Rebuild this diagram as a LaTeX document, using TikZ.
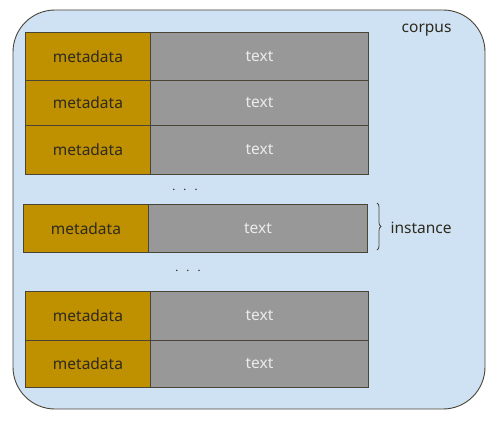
\documentclass[tikz,border=0pt]{standalone}
\usepackage{fontspec}
\setmainfont{Noto Sans}
\usetikzlibrary{decorations.pathreplacing}
\definecolor{bgblue}{HTML}{CFE2F3}
\definecolor{meta}{HTML}{BF9000}
\definecolor{txtgray}{HTML}{989898}
\definecolor{edge}{HTML}{4A4436}
\definecolor{ink}{HTML}{2E2A1E}
\begin{document}
\begin{tikzpicture}[x=1pt,y=-1pt,
  every node/.style={font=\fontsize{15.5}{17}\selectfont},
  metabox/.style={draw=edge,line width=0.9pt,fill=meta,text=ink,anchor=north west,inner sep=0pt,minimum height=#1,minimum width=125pt},
  textbox/.style={draw=edge,line width=0.9pt,fill=txtgray,text=white!92!black,anchor=north west,inner sep=0pt,minimum height=#1,minimum width=218pt},
  dotsnode/.style={text=ink,inner sep=0pt}]
\useasboundingbox (0,0) rectangle (500,420);
\draw[draw=edge,line width=0.9pt,fill=bgblue,rounded corners=42pt] (13,10) rectangle (485,409);
\node[text=ink,anchor=east] (corpus) at (455,30) {corpus};
% top rows
\node[metabox=48pt] (m1) at (25,32) {metadata};
\node[textbox=48pt] (t1) at (150,32) {text};
\node[metabox=45pt] (m2) at (25,80) {metadata};
\node[textbox=45pt] (t2) at (150,80) {text};
\node[metabox=49pt] (m3) at (25,125) {metadata};
\node[textbox=49pt] (t3) at (150,125) {text};
\node[dotsnode] (d1) at (185,190) {$\cdot\;\cdot\;\cdot$};
% instance
\node[metabox=48pt,minimum width=125pt] (m4) at (23,204) {metadata};
\node[textbox=48pt,minimum width=219pt] (t4) at (148,204) {text};
\draw[decorate,decoration={brace,amplitude=4pt},draw=edge,line width=0.8pt] (377,203) -- (377,250) coordinate[midway] (bm);
\node[text=ink,anchor=west] (inst) at (387,228) {instance};
\node[dotsnode] (d2) at (188,271) {$\cdot\;\cdot\;\cdot$};
% bottom rows
\node[metabox=49pt] (m5) at (25,291) {metadata};
\node[textbox=49pt] (t5) at (150,291) {text};
\node[metabox=47pt] (m6) at (25,340) {metadata};
\node[textbox=47pt] (t6) at (150,340) {text};
\end{tikzpicture}
\end{document}
